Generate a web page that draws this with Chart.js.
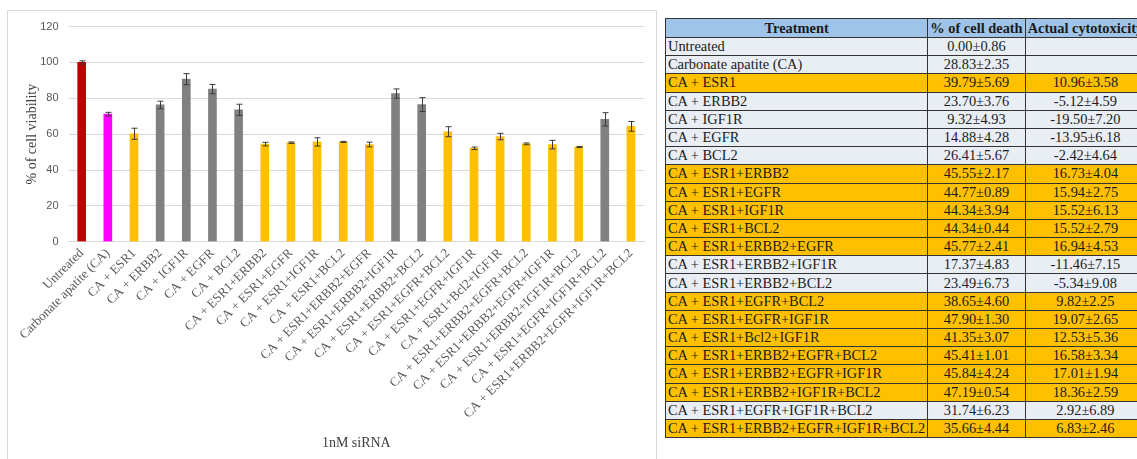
<!DOCTYPE html>
<html>
<head>
<meta charset="utf-8">
<script src="https://cdn.jsdelivr.net/npm/chart.js@4.4.1/dist/chart.umd.min.js"></script>
<style>
  html, body { margin: 0; padding: 0; background: #fff; overflow: hidden; }
  body { width: 1137px; height: 459px; position: relative; }
  #frame { position: absolute; left: 7px; top: 10px; width: 650px; height: 470px; border: 1px solid #d9d9d9; box-sizing: border-box; }
  #plot { position: absolute; left: 7px; top: 10px; width: 651px; height: 449px; }
  #tbl { position: absolute; left: 665px; top: 18px; border-collapse: collapse; table-layout: fixed;
         font-family: "Liberation Serif", "Times New Roman", serif; font-size: 14.4px; color: #1a1a1a; }
  #tbl td, #tbl th { border: 1px solid #333; padding: 0 2px; height: 17.2px; line-height: 17px; white-space: nowrap; overflow: hidden; }
  #tbl th { background: #9fc4e8; font-weight: bold; text-align: center; height: 18px; }
  #tbl td.num { text-align: center; }
  #tbl tr.hit td { background: #ffc000; }
  #tbl tr.plain td { background: #e9edf4; }
</style>
</head>
<body>
<div id="frame"></div>
<div id="plot"><canvas id="c"></canvas></div>
<table id="tbl">
  <colgroup><col style="width:262px"><col style="width:99px"><col style="width:120px"></colgroup>
  <thead><tr><th>Treatment</th><th>% of cell death</th><th>Actual cytotoxicity</th></tr></thead>
  <tbody id="tbody"></tbody>
</table>
<script>
// Treatments (1 nM siRNA with carbonate apatite)
const treatments = [
  "Untreated",
  "Carbonate apatite (CA)",
  "CA + ESR1",
  "CA + ERBB2",
  "CA + IGF1R",
  "CA + EGFR",
  "CA + BCL2",
  "CA + ESR1+ERBB2",
  "CA + ESR1+EGFR",
  "CA + ESR1+IGF1R",
  "CA + ESR1+BCL2",
  "CA + ESR1+ERBB2+EGFR",
  "CA + ESR1+ERBB2+IGF1R",
  "CA + ESR1+ERBB2+BCL2",
  "CA + ESR1+EGFR+BCL2",
  "CA + ESR1+EGFR+IGF1R",
  "CA + ESR1+Bcl2+IGF1R",
  "CA + ESR1+ERBB2+EGFR+BCL2",
  "CA + ESR1+ERBB2+EGFR+IGF1R",
  "CA + ESR1+ERBB2+IGF1R+BCL2",
  "CA + ESR1+EGFR+IGF1R+BCL2",
  "CA + ESR1+ERBB2+EGFR+IGF1R+BCL2"
];

// % of cell viability (bar heights) and error bars
const viability = [100.00, 71.17, 60.21, 76.30, 90.68, 85.12, 73.59, 54.45, 55.23, 55.66, 55.66,
                   54.23, 82.63, 76.51, 61.35, 52.10, 58.65, 54.59, 54.16, 52.81, 68.26, 64.34];
const viabilityErr = [0.9, 1.0, 3.1, 2.1, 3.1, 2.6, 3.1, 1.0, 0.4, 2.3, 0.3,
                      1.3, 2.6, 3.9, 2.8, 0.7, 1.8, 0.5, 2.4, 0.3, 3.7, 2.7];

// Table columns
const cellDeath = ["0.00±0.86", "28.83±2.35", "39.79±5.69", "23.70±3.76", "9.32±4.93", "14.88±4.28",
  "26.41±5.67", "45.55±2.17", "44.77±0.89", "44.34±3.94", "44.34±0.44", "45.77±2.41", "17.37±4.83",
  "23.49±6.73", "38.65±4.60", "47.90±1.30", "41.35±3.07", "45.41±1.01", "45.84±4.24", "47.19±0.54",
  "31.74±6.23", "35.66±4.44"];
const cytotoxicity = ["", "", "10.96±3.58", "-5.12±4.59", "-19.50±7.20", "-13.95±6.18", "-2.42±4.64",
  "16.73±4.04", "15.94±2.75", "15.52±6.13", "15.52±2.79", "16.94±4.53", "-11.46±7.15", "-5.34±9.08",
  "9.82±2.25", "19.07±2.65", "12.53±5.36", "16.58±3.34", "17.01±1.94", "18.36±2.59", "2.92±6.89",
  "6.83±2.46"];

// Group of each treatment: control, carrier, effective (highlighted), ineffective
const group = ["control", "carrier", "hit", "plain", "plain", "plain", "plain", "hit", "hit", "hit", "hit",
               "hit", "plain", "plain", "hit", "hit", "hit", "hit", "hit", "hit", "plain", "hit"];

const yTicks = [0, 20, 40, 60, 80, 100, 120];

const groupColor = { control: "#c00000", carrier: "#ff00ff", hit: "#ffc000", plain: "#808080" };

// ---- table ----
const tbody = document.getElementById("tbody");
treatments.forEach((t, i) => {
  const tr = document.createElement("tr");
  tr.className = group[i] === "hit" ? "hit" : "plain";
  const a = document.createElement("td"); a.textContent = t;
  const b = document.createElement("td"); b.className = "num"; b.textContent = cellDeath[i];
  const c = document.createElement("td"); c.className = "num"; c.textContent = cytotoxicity[i];
  tr.append(a, b, c);
  tbody.appendChild(tr);
});

// ---- error bars ----
const errorBars = {
  id: "errorBars",
  afterDatasetsDraw(chart) {
    const meta = chart.getDatasetMeta(0);
    const y = chart.scales.y;
    const ctx = chart.ctx;
    ctx.save();
    ctx.strokeStyle = "#3c3c3c";
    ctx.lineWidth = 1;
    meta.data.forEach((bar, i) => {
      const v = viability[i], e = viabilityErr[i];
      const x = Math.round(bar.x) + 0.5;
      const top = y.getPixelForValue(v + e);
      const bot = y.getPixelForValue(v - e);
      ctx.beginPath();
      ctx.moveTo(x, top); ctx.lineTo(x, bot);
      ctx.moveTo(x - 3, top); ctx.lineTo(x + 3, top);
      ctx.moveTo(x - 3, bot); ctx.lineTo(x + 3, bot);
      ctx.stroke();
    });
    ctx.restore();
  }
};

new Chart(document.getElementById("c"), {
  type: "bar",
  data: {
    labels: treatments,
    datasets: [{
      data: viability,
      backgroundColor: group.map(g => groupColor[g]),
      barThickness: 8,
      borderWidth: 0
    }]
  },
  plugins: [errorBars],
  options: {
    responsive: true,
    maintainAspectRatio: false,
    animation: false,
    layout: { padding: { left: 0, right: 14, top: 13, bottom: 0 } },
    plugins: { legend: { display: false }, tooltip: { enabled: false } },
    scales: {
      x: {
        grid: { display: false, drawTicks: false },
        border: { display: true, color: "#d9d9d9" },
        ticks: {
          autoSkip: false, minRotation: 45, maxRotation: 45, padding: 4,
          color: "#595959", font: { family: "Liberation Serif", size: 13 }
        },
        title: {
          display: true, text: "1nM siRNA", color: "#404040",
          font: { family: "Liberation Serif", size: 14 }, padding: { top: 0, bottom: 7 }
        },
        afterFit(s) { s.height = 217.3; s.paddingLeft = 0; s.paddingRight = 0; }
      },
      y: {
        min: 0, max: 120,
        afterBuildTicks(s) { s.ticks = yTicks.map(v => ({ value: v })); },
        grid: { color: "#d9d9d9", drawTicks: false },
        border: { display: false },
        ticks: { padding: 10, color: "#595959", font: { family: "Liberation Sans", size: 11 } },
        title: {
          display: true, text: "% of cell viability", color: "#404040",
          font: { family: "Liberation Serif", size: 14 }, padding: { top: 17, bottom: 0 }
        },
        afterFit(s) { s.width = 61.6; }
      }
    }
  }
});
</script>
</body>
</html>
